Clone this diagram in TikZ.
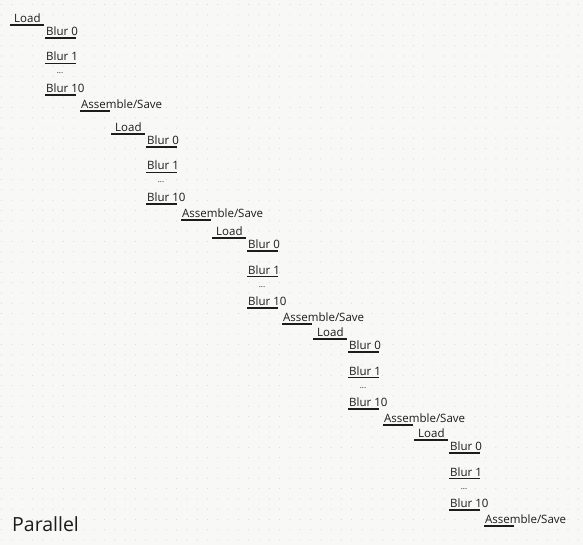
\documentclass[tikz,border=0pt]{standalone}
\usepackage{fontspec}
\setmainfont{Open Sans}
\definecolor{paper}{HTML}{F8F8F7}
\definecolor{griddot}{HTML}{DADADA}
\definecolor{ink}{HTML}{1C1C1C}
\tikzset{
  task/.style={inner sep=0pt, anchor=base west, text=ink, font=\fontsize{11.5}{13}\selectfont},
  bar/.style={draw=ink, line width=1.1pt},
}
\begin{document}
\begin{tikzpicture}[x=1pt,y=1pt]
	\fill [paper] (0,0) rectangle (583,-545);
	\useasboundingbox (0,0) rectangle (583,-545);
	% dot grid of the board
	\foreach \gx in {0,...,56} \foreach \gy in {0,...,52}
		\fill [griddot] (1.5+10.3*\gx,-4.5-10.3*\gy) circle (0.6);
	% one staircase step per image
	\foreach \i/\bx/\by in {1/10/25, 2/111/134, 3/212/238, 4/313/339, 5/414/440} {
		\node [task] (load\i) at (\bx+4,-\by+2.5) {Load};
		\draw [bar] ([shift={(-4,-2.5)}]load\i.base west) -- ++(34,0);
		\node [task] (blurA\i) at (\bx+36,-\by-10.5) {Blur 0};
		\draw [bar] ([shift={(-1,-2.5)}]blurA\i.base west) -- ++(31,0);
		\node [task] (blurB\i) at (\bx+36,-\by-36) {Blur 1};
		\draw [bar] ([shift={(-1,-2.5)}]blurB\i.base west) -- ++(31,0);
		\node [task, anchor=base, font=\fontsize{8}{9}\selectfont] (dots\i) at (\bx+50,-\by-49) {...};
		\node [task] (blurC\i) at (\bx+36,-\by-67.5) {Blur 10};
		\draw [bar] ([shift={(-1,-2.5)}]blurC\i.base west) -- ++(31,0);
		\node [task] (save\i) at (\bx+71,-\by-83.5) {Assemble/Save};
		\draw [bar] ([shift={(-1,-2.5)}]save\i.base west) -- ++(30,0);
	}
	\node [task, font=\fontsize{19.5}{22}\selectfont] (title) at (12,-531) {Parallel};
\end{tikzpicture}
\end{document}
